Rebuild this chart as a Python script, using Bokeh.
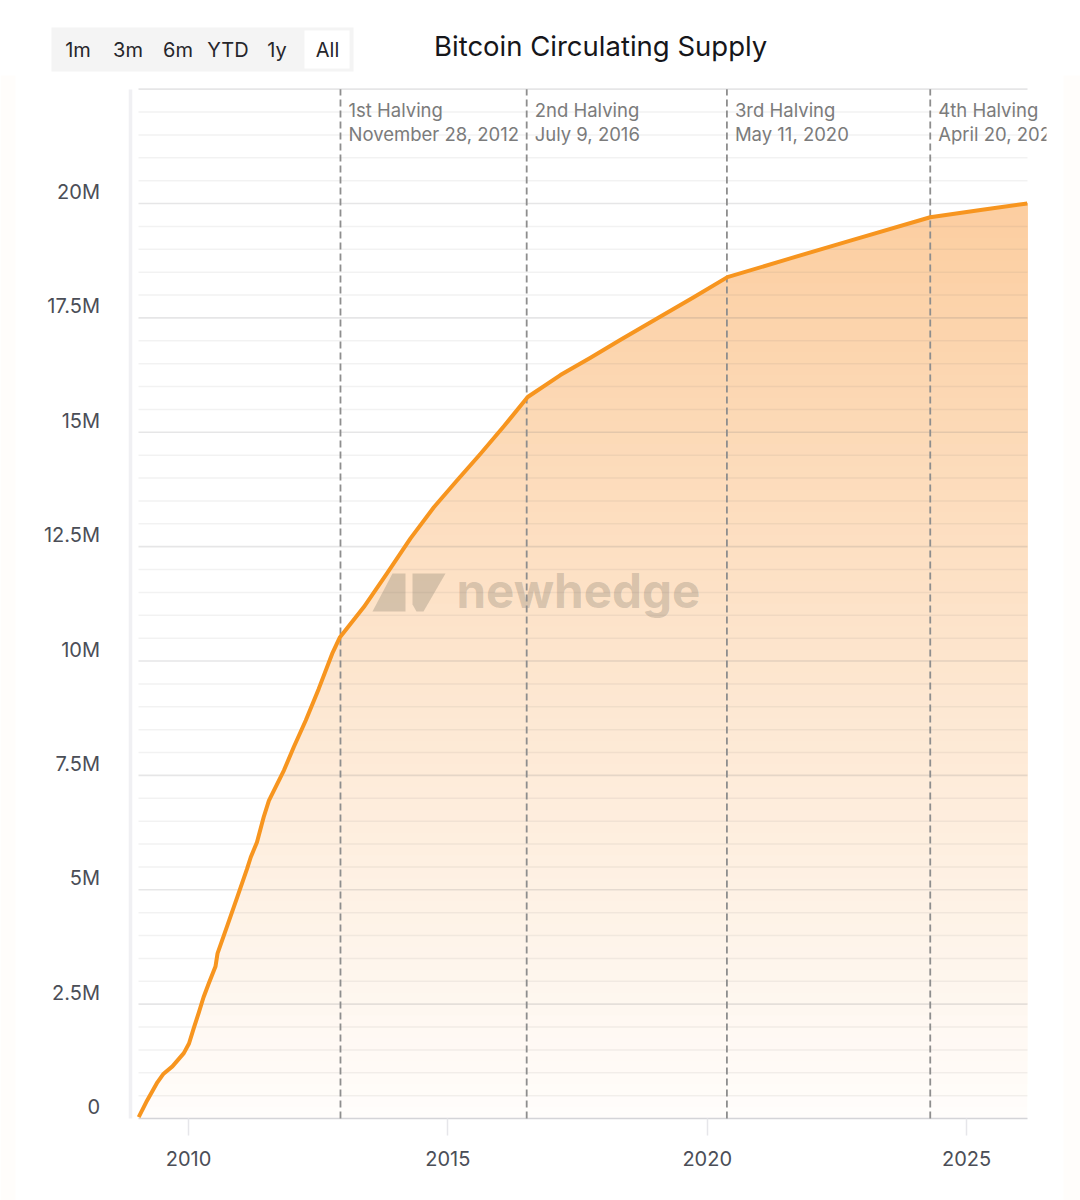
from bokeh.plotting import figure
from bokeh.models import (BoxAnnotation, FixedTicker, Label, LinearAxis, PolyAnnotation, Range1d)
from bokeh.embed import file_html
from bokeh.resources import INLINE
import numpy as np

# ---------- data ----------
years = [2009.04, 2009.20, 2009.40, 2009.52, 2009.69, 2009.91, 2010.01, 2010.10, 2010.20, 2010.29,
         2010.39, 2010.52, 2010.56, 2010.75, 2010.94, 2011.13, 2011.20, 2011.32, 2011.45, 2011.55,
         2011.84, 2012.03, 2012.26, 2012.51, 2012.77, 2012.92, 2013.38, 2013.83, 2014.28, 2014.73,
         2015.18, 2015.63, 2016.08, 2016.54, 2017.17, 2017.75, 2018.33, 2019.10, 2019.74, 2020.39,
         2021.57, 2022.76, 2024.30, 2025.27, 2026.17]
supply_m = [0.03, 0.39, 0.79, 0.98, 1.14, 1.43, 1.64, 1.97, 2.32, 2.65,
            2.95, 3.32, 3.61, 4.22, 4.84, 5.46, 5.71, 6.04, 6.59, 6.95,
            7.61, 8.12, 8.70, 9.39, 10.16, 10.52, 11.18, 11.92, 12.68, 13.36,
            13.95, 14.53, 15.13, 15.77, 16.25, 16.63, 17.02, 17.53, 17.95, 18.39,
            18.79, 19.19, 19.70, 19.86, 20.00]
halving_years = [2012.93, 2016.52, 2020.38, 2024.30]
halving_names = ["1st Halving", "2nd Halving", "3rd Halving", "4th Halving"]
halving_dates = ["November 28, 2012", "July 9, 2016", "May 11, 2020", "April 20, 2024"]
y_ticks = [0, 2500000, 5000000, 7500000, 10000000, 12500000, 15000000, 17500000, 20000000]
y_labels = ["0", "2.5M", "5M", "7.5M", "10M", "12.5M", "15M", "17.5M", "20M"]
x_ticks = [2010, 2015, 2020, 2025]
range_buttons = ["1m", "3m", "6m", "YTD", "1y", "All"]
title_text = "Bitcoin Circulating Supply"
watermark_text = "newhedge"

FONT = "Inter"
x_data = np.array(years)
y_data = np.array(supply_m) * 1e6

# Scale of the page: the frame fills the whole canvas so that everything is inside it
W, H = 1080, 1200
PX_PER_YEAR = 51.87
PX_PER_UNIT = 45.75 / 1e6
X0_PX, Y0_PX = 188, 1118   # pixel of 2010 and of zero supply
X_MIN, X_MAX = 2009.036, 2026.175
Y_TOP = 22500000
LABEL_RAISE_PX = 11.5

def x_at(px):
    return 2010 + (px - X0_PX) / PX_PER_YEAR
def y_at(py):
    return (Y0_PX - py) / PX_PER_UNIT
def fy(py):
    return H - py

p = figure(width=W, height=H, output_backend="svg", toolbar_location=None,
           x_range=Range1d(x_at(0), x_at(W)), y_range=Range1d(y_at(H), y_at(0)),
           y_axis_location=None, min_border=0)
p.outline_line_color = None
p.background_fill_color = "white"
p.border_fill_color = "white"
p.xgrid.visible = False
p.ygrid.visible = False

# gradient area: opaque layers, each from its level up to the curve
orange = np.array([247, 142, 38])
levels = np.arange(0, 20000000, 250000)
for lv in levels:
    t = lv / 20000000
    a = 0.02 + 0.42 * t
    c = (255 * (1 - a) + orange * a).round().astype(int)
    xs0 = np.interp(lv, y_data, x_data)
    keep = y_data > lv
    xs = np.concatenate([[xs0], x_data[keep]])
    ys = np.concatenate([[lv], y_data[keep]])
    p.varea(x=xs, y1=np.full(len(xs), lv), y2=ys, fill_color="#%02x%02x%02x" % tuple(c))

# horizontal rules
major_rules = [v * 2500000 for v in range(1, 10)]
minor_rules = [v * 500000 for v in range(1, 45) if v % 5]
p.segment(x0=X_MIN, x1=X_MAX, y0=major_rules, y1=major_rules, line_color="#6b6b70", line_alpha=0.17, line_width=1.6)
p.segment(x0=X_MIN, x1=X_MAX, y0=minor_rules, y1=minor_rules, line_color="#6b6b70", line_alpha=0.09, line_width=1.5)

# y axis: its own range sits a few pixels lower so that the labels stand above their rules
shift = LABEL_RAISE_PX / PX_PER_UNIT
p.extra_y_ranges["labels"] = Range1d(y_at(H) - shift, y_at(0) - shift)
ya = LinearAxis(y_range_name="labels", fixed_location=x_at(129.5), bounds=(0 - shift, Y_TOP - shift),
                ticker=FixedTicker(ticks=y_ticks), major_label_overrides=dict(zip(y_ticks, y_labels)))
ya.axis_line_color = "#f0f0f3"
ya.axis_line_width = 3.5
ya.major_tick_line_color = None
ya.minor_tick_line_color = None
ya.major_label_standoff = 24
ya.major_label_text_font = FONT
ya.major_label_text_font_size = "20px"
ya.major_label_text_color = "#4b4e57"
p.add_layout(ya, "left")

xa = p.xaxis[0]
xa.fixed_location = 0
xa.bounds = (X_MIN, X_MAX)
xa.ticker = FixedTicker(ticks=x_ticks)
xa.axis_line_color = "#d4d4d8"
xa.axis_line_width = 1.5
xa.major_tick_in = 0
xa.major_tick_out = 17
xa.major_tick_line_color = "#e6e6ea"
xa.major_tick_line_width = 1.5
xa.minor_tick_line_color = None
xa.major_label_standoff = 15
xa.major_label_text_font = FONT
xa.major_label_text_font_size = "20px"
xa.major_label_text_color = "#4b4e57"

# watermark
wm_color, wm_alpha = "#706a5d", 0.27
p.add_layout(PolyAnnotation(xs=[372, 392, 405, 405], ys=[fy(v) for v in (611, 573, 573, 611)],
                            xs_units="screen", ys_units="screen", fill_color=wm_color, fill_alpha=wm_alpha,
                            line_color=None, level="glyph"))
p.add_layout(PolyAnnotation(xs=[412, 445, 423, 416, 412], ys=[fy(v) for v in (573, 573, 611, 611, 604)],
                            xs_units="screen", ys_units="screen", fill_color=wm_color, fill_alpha=wm_alpha,
                            line_color=None, level="glyph"))
p.add_layout(Label(x=456, y=fy(590), x_units="screen", y_units="screen", text=watermark_text,
                   text_font=FONT, text_font_style="bold", text_font_size="47.5px", text_color=wm_color,
                   text_alpha=wm_alpha, text_baseline="alphabetic", level="glyph"))

# halvings
for hy in halving_years:
    p.line([hy, hy], [0, Y_TOP], line_color="#8e8e8e", line_width=1.8, line_dash=[7, 4], level="annotation")
for hy, name, date in zip(halving_years, halving_names, halving_dates):
    for txt, py in ((name, 109), (date, 133)):
        p.add_layout(Label(x=hy, y=fy(py), x_units="data", y_units="screen", x_offset=8, text=txt,
                           text_font=FONT, text_font_size="18.5px", text_color="#7b7b7b",
                           text_baseline="middle", level="annotation"))

# supply line
p.line(x_data, y_data, line_color="#f7951f", line_width=4, line_join="round", level="annotation")

def box(l, r, t, b, col, level="overlay"):
    p.add_layout(BoxAnnotation(left=l, right=r, top=fy(t), bottom=fy(b),
                               left_units="screen", right_units="screen", top_units="screen", bottom_units="screen",
                               fill_color=col, fill_alpha=1, line_color=None, level=level))

# page margins and the clip of the last halving label
box(1046, 1063, 75, H, "white")
box(1063, W, 75, H, "#fffdfb")
box(0, 15, 75, H, "#fffdfb")

# range selector
box(51, 353, 27, 71, "#f4f4f4")
box(304, 349, 30, 68, "white")
for txt, cx in zip(range_buttons, (77.5, 127.5, 177.5, 227.5, 276.5, 327)):
    p.add_layout(Label(x=cx, y=fy(49), x_units="screen", y_units="screen", text=txt,
                       text_font=FONT, text_font_size="20px", text_color="#26262b",
                       text_align="center", text_baseline="middle", level="overlay"))

# title
p.add_layout(Label(x=433.5, y=fy(45), x_units="screen", y_units="screen", text=title_text,
                   text_font=FONT, text_font_size="27.5px", text_color="#16161a",
                   text_baseline="middle", level="overlay"))

open("out.html", "w").write(file_html(p, INLINE))
